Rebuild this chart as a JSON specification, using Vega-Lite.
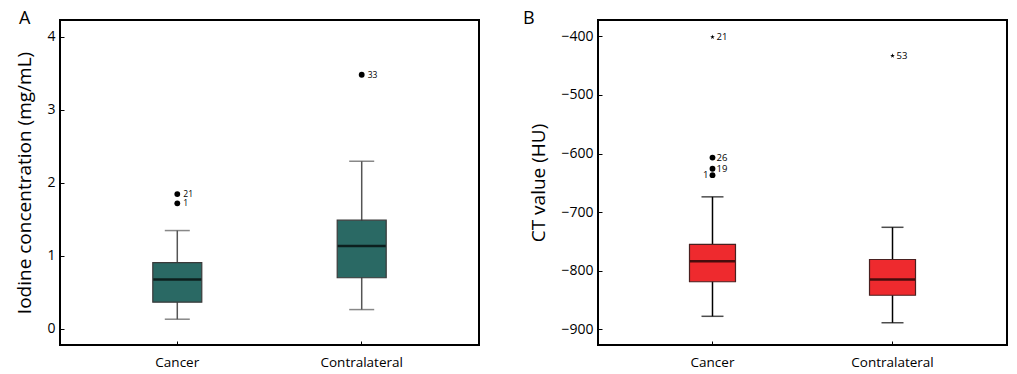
{
  "$schema": "https://vega.github.io/schema/vega-lite/v6.json",
  "background": "white",
  "padding": {"left": 14, "top": 9, "right": 6, "bottom": 0},
  "spacing": 41,
  "config": {
    "font": "Open Sans",
    "view": {"stroke": "black", "strokeWidth": 2},
    "axis": {"domain": false, "grid": false, "labelColor": "black", "titleColor": "black", "labelFont": "Open Sans", "titleFont": "Open Sans", "tickColor": "black"},
    "title": {"font": "Open Sans", "fontWeight": "normal", "fontSize": 18, "anchor": "start", "frame": "bounds", "color": "black"}
  },
  "datasets": {
    "boxA": [
      {"group": "Cancer", "lower": 0.133, "q1": 0.367, "median": 0.678, "q3": 0.907, "upper": 1.347},
      {"group": "Contralateral", "lower": 0.265, "q1": 0.701, "median": 1.137, "q3": 1.489, "upper": 2.296}
    ],
    "outA": [
      {"group": "Cancer", "value": 1.846, "case": "21", "type": "outlier"},
      {"group": "Cancer", "value": 1.72, "case": "1", "type": "outlier"},
      {"group": "Contralateral", "value": 3.48, "case": "33", "type": "outlier"}
    ],
    "boxB": [
      {"group": "Cancer", "lower": -878, "q1": -819, "median": -784, "q3": -755, "upper": -674},
      {"group": "Contralateral", "lower": -889, "q1": -842, "median": -815, "q3": -781, "upper": -726}
    ],
    "outB": [
      {"group": "Cancer", "value": -401, "case": "21", "type": "extreme"},
      {"group": "Cancer", "value": -607, "case": "26", "type": "outlier"},
      {"group": "Cancer", "value": -626, "case": "19", "type": "outlier"},
      {"group": "Cancer", "value": -637, "case": "1", "type": "outlier"},
      {"group": "Contralateral", "value": -433, "case": "53", "type": "extreme"}
    ]
  },
  "hconcat": [
    {
      "title": {"text": "A", "offset": -8, "dx": 3},
      "width": 419,
      "height": 325,
      "encoding": {
        "x": {"field": "group", "type": "nominal", "sort": ["Cancer", "Contralateral"], "scale": {"paddingInner": 0, "paddingOuter": 0.136},
          "axis": {"title": null, "labelAngle": 0, "labelFontSize": 13.5, "tickSize": -4, "labelPadding": 14}}
      },
      "layer": [
        {
          "data": {"name": "boxA"},
          "mark": {"type": "rule", "color": "#555555", "strokeWidth": 1.5},
          "encoding": {
            "y": {"field": "lower", "type": "quantitative", "scale": {"domain": [-0.22, 4.23], "nice": false, "zero": false},
              "axis": {"title": "Iodine concentration (mg/mL)", "titleFontSize": 19, "titleFontWeight": "normal", "labelFontSize": 14, "values": [0, 1, 2, 3, 4], "format": "d", "tickSize": -4, "labelPadding": 9, "titlePadding": 12}},
            "y2": {"field": "upper"}
          }
        },
        {
          "data": {"name": "boxA"},
          "mark": {"type": "bar", "width": 49, "color": "#2a6964", "stroke": "#3a3a3a", "strokeWidth": 1.2},
          "encoding": {"y": {"field": "q1", "type": "quantitative"}, "y2": {"field": "q3"}}
        },
        {
          "data": {"name": "boxA"},
          "mark": {"type": "tick", "color": "black", "size": 48, "thickness": 2.5},
          "encoding": {"y": {"field": "median", "type": "quantitative"}}
        },
        {
          "data": {"name": "boxA"},
          "mark": {"type": "tick", "color": "#555555", "size": 25, "thickness": 1.5},
          "encoding": {"y": {"field": "upper", "type": "quantitative"}}
        },
        {
          "data": {"name": "boxA"},
          "mark": {"type": "tick", "color": "#555555", "size": 25, "thickness": 1.5},
          "encoding": {"y": {"field": "lower", "type": "quantitative"}}
        },
        {
          "data": {"name": "outA"},
          "mark": {"type": "point", "filled": true, "color": "black", "size": 34, "shape": "circle", "opacity": 1},
          "encoding": {"y": {"field": "value", "type": "quantitative"}}
        },
        {
          "data": {"name": "outA"},
          "mark": {"type": "text", "align": "left", "dx": 6, "fontSize": 8.5, "fill": "black", "baseline": "middle"},
          "encoding": {"y": {"field": "value", "type": "quantitative"}, "text": {"field": "case"}}
        }
      ]
    },
    {
      "title": {"text": "B", "offset": -8, "dx": -7},
      "width": 409,
      "height": 325,
      "encoding": {
        "x": {"field": "group", "type": "nominal", "sort": ["Cancer", "Contralateral"], "scale": {"paddingInner": 0, "paddingOuter": 0.136},
          "axis": {"title": null, "labelAngle": 0, "labelFontSize": 13.5, "tickSize": -4, "labelPadding": 14}}
      },
      "layer": [
        {
          "data": {"name": "boxB"},
          "mark": {"type": "rule", "color": "black", "strokeWidth": 1.5},
          "encoding": {
            "y": {"field": "lower", "type": "quantitative", "scale": {"domain": [-927, -372], "nice": false, "zero": false},
              "axis": {"title": "CT value (HU)", "titleFontSize": 19, "titleFontWeight": "normal", "labelFontSize": 14, "values": [-900, -800, -700, -600, -500, -400], "tickSize": -4, "labelPadding": 9, "titlePadding": 12}},
            "y2": {"field": "upper"}
          }
        },
        {
          "data": {"name": "boxB"},
          "mark": {"type": "bar", "width": 46, "color": "#ee2a2e", "stroke": "#4a2020", "strokeWidth": 1.2},
          "encoding": {"y": {"field": "q1", "type": "quantitative"}, "y2": {"field": "q3"}}
        },
        {
          "data": {"name": "boxB"},
          "mark": {"type": "tick", "color": "black", "size": 45, "thickness": 2.5},
          "encoding": {"y": {"field": "median", "type": "quantitative"}}
        },
        {
          "data": {"name": "boxB"},
          "mark": {"type": "tick", "color": "black", "size": 22, "thickness": 1.5},
          "encoding": {"y": {"field": "upper", "type": "quantitative"}}
        },
        {
          "data": {"name": "boxB"},
          "mark": {"type": "tick", "color": "black", "size": 22, "thickness": 1.5},
          "encoding": {"y": {"field": "lower", "type": "quantitative"}}
        },
        {
          "data": {"name": "outB"},
          "mark": {"type": "point", "filled": true, "color": "black", "opacity": 1},
          "encoding": {
            "y": {"field": "value", "type": "quantitative"},
            "shape": {"field": "type", "type": "nominal", "scale": {"domain": ["outlier", "extreme"], "range": ["circle", "M0,-1L0.22,-0.3L0.95,-0.3L0.36,0.12L0.59,0.81L0,0.38L-0.59,0.81L-0.36,0.12L-0.95,-0.3L-0.22,-0.3Z"]}, "legend": null},
            "size": {"field": "type", "type": "nominal", "scale": {"domain": ["outlier", "extreme"], "range": [34, 24]}, "legend": null}
          }
        },
        {
          "data": {"name": "outB"},
          "transform": [{"filter": "datum.case != '1'"}],
          "mark": {"type": "text", "align": "left", "dx": 4, "fontSize": 9.5, "fill": "black", "baseline": "middle"},
          "encoding": {"y": {"field": "value", "type": "quantitative"}, "text": {"field": "case"}}
        },
        {
          "data": {"name": "outB"},
          "transform": [{"filter": "datum.case == '1'"}],
          "mark": {"type": "text", "align": "right", "dx": -4, "fontSize": 9.5, "fill": "black", "baseline": "middle"},
          "encoding": {"y": {"field": "value", "type": "quantitative"}, "text": {"field": "case"}}
        }
      ]
    }
  ]
}
